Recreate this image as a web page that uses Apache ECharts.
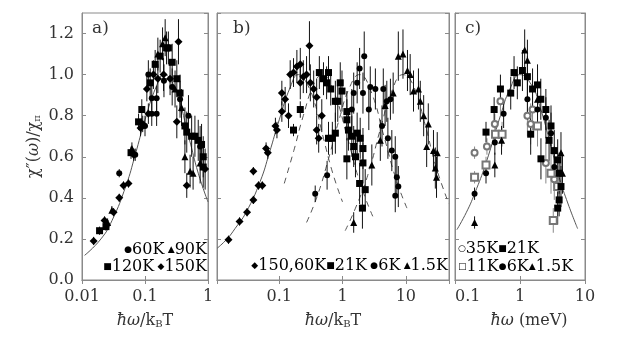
<!DOCTYPE html>
<html>
<head>
<meta charset="utf-8">
<script src="https://cdn.jsdelivr.net/npm/echarts@6/dist/echarts.min.js"></script>
<style>
  html, body { margin: 0; padding: 0; background: #fff; }
  #chart { width: 623px; height: 350px; }
</style>
</head>
<body>
<div id="chart"></div>
<script>
  // points are [x, y, error]
  // panel a) scaled by k_B T
  var a60 = [[0.039,0.52,0.02],[0.07,0.61,0.03],[0.1,0.75,0.05],[0.128,0.81,0.06],[0.153,0.81,0.06],[0.128,0.885,0.06],[0.153,0.885,0.06],[0.113,1.0,0.07],[0.2,0.97,0.08],[0.27,0.94,0.09],[0.36,0.88,0.09],[0.49,0.80,0.1],[0.75,0.65,0.1]];
  var a90 = [[0.0255,0.28,0.02],[0.0298,0.34,0.02],[0.062,0.64,0.03],[0.16,1.10,0.08],[0.19,1.15,0.08],[0.209,1.18,0.09],[0.3,0.93,0.09],[0.38,0.84,0.09],[0.43,0.60,0.08],[0.52,0.53,0.08],[0.58,0.52,0.08],[0.75,0.57,0.1]];
  var a120 = [[0.019,0.24,0.02],[0.024,0.26,0.02],[0.06,0.62,0.03],[0.079,0.77,0.04],[0.089,0.83,0.05],[0.121,0.96,0.07],[0.145,1.05,0.07],[0.174,1.09,0.08],[0.22,1.13,0.08],[0.235,1.13,0.08],[0.27,1.06,0.09],[0.32,0.98,0.09],[0.36,0.91,0.09],[0.43,0.75,0.09],[0.46,0.72,0.1],[0.55,0.70,0.1],[0.62,0.70,0.1],[0.7,0.68,0.1],[0.79,0.66,0.1],[0.84,0.6,0.1],[0.84,0.55,0.1]];
  var a150 = [[0.0153,0.19,0.02],[0.0228,0.29,0.02],[0.0317,0.33,0.02],[0.039,0.40,0.02],[0.0456,0.46,0.02],[0.0547,0.47,0.02],[0.066,0.61,0.03],[0.085,0.74,0.04],[0.092,0.76,0.04],[0.113,0.81,0.05],[0.107,0.93,0.06],[0.136,1.0,0.07],[0.16,0.98,0.07],[0.197,1.0,0.08],[0.25,0.98,0.08],[0.34,1.16,0.11],[0.32,0.77,0.08],[0.46,0.46,0.06],[0.9,0.54,0.1]];
  var aFit = [[0.011,0.12],[0.02,0.2],[0.03,0.29],[0.05,0.46],[0.07,0.61],[0.1,0.78],[0.15,0.94],[0.2,1.0],[0.3,0.93],[0.5,0.69],[0.7,0.52],[1.0,0.38]];

  // panel b)
  var b150 = [[0.0158,0.196,0.02],[0.0236,0.285,0.02],[0.031,0.33,0.02],[0.039,0.39,0.02],[0.039,0.53,0.02],[0.047,0.46,0.02],[0.054,0.46,0.02],[0.062,0.64,0.03],[0.066,0.62,0.03],[0.087,0.75,0.04],[0.092,0.73,0.04],[0.11,0.82,0.05],[0.14,0.80,0.06],[0.11,0.91,0.06],[0.124,0.88,0.06],[0.149,1.0,0.07],[0.168,1.01,0.07],[0.19,1.04,0.08],[0.215,1.05,0.08],[0.24,0.99,0.08],[0.27,1.0,0.09],[0.215,0.96,0.08],[0.31,0.96,0.09],[0.35,0.93,0.09],[0.39,0.89,0.09],[0.3,1.14,0.12],[0.47,0.80,0.08],[0.39,0.73,0.07],[0.42,0.69,0.07]];
  var b21 = [[0.168,0.73,0.03],[0.215,0.83,0.04],[0.43,1.01,0.08],[0.6,1.01,0.08],[0.5,0.98,0.08],[0.56,0.96,0.08],[0.65,0.93,0.08],[0.92,0.96,0.1],[0.98,0.92,0.1],[0.77,0.87,0.1],[0.84,0.87,0.1],[0.77,0.715,0.1],[0.6,0.69,0.08],[0.69,0.69,0.08],[1.17,0.78,0.1],[1.24,0.73,0.1],[1.17,0.82,0.1],[1.4,0.70,0.1],[1.7,0.715,0.1],[1.9,0.69,0.1],[2.1,0.64,0.1],[1.5,0.65,0.1],[1.17,0.59,0.1],[1.6,0.60,0.1],[2.1,0.57,0.1],[1.86,0.47,0.1],[2.28,0.44,0.1],[2.06,0.35,0.1]];
  var b6 = [[0.37,0.42,0.04],[0.57,0.51,0.07],[1.4,0.83,0.1],[1.5,0.91,0.1],[1.7,0.96,0.1],[1.86,1.03,0.1],[2.2,1.09,0.12],[2.1,0.91,0.1],[2.6,0.83,0.1],[2.74,0.94,0.1],[3.3,0.93,0.1],[4.4,0.93,0.1],[5.0,0.87,0.1],[5.7,0.88,0.1],[4.2,0.75,0.1],[5.2,0.69,0.1],[6.0,0.63,0.1],[6.8,0.60,0.1],[7.2,0.50,0.1],[7.6,0.455,0.1],[6.8,0.41,0.08]];
  var b15 = [[1.5,0.28,0.05],[2.9,0.56,0.1],[3.95,0.68,0.1],[4.7,0.85,0.1],[6.3,0.91,0.1],[7.6,1.09,0.12],[9.0,1.10,0.12],[10.6,1.02,0.1],[11.7,1.0,0.1],[13.2,0.92,0.1],[15.8,0.93,0.1],[16.9,0.87,0.1],[19.1,0.80,0.1],[22.6,0.76,0.1],[21.3,0.65,0.1],[27.3,0.63,0.1],[31.3,0.62,0.1],[29.2,0.545,0.1],[30.5,0.50,0.1]];
  var bFit150 = [[0.0105,0.155],[0.015,0.2],[0.02,0.25],[0.03,0.33],[0.05,0.48],[0.07,0.62],[0.1,0.78],[0.15,0.94],[0.2,1.0],[0.27,0.96]];
  var bTail150 = [[0.27,0.96],[0.35,0.88],[0.5,0.69],[0.7,0.52],[1.0,0.38]];
  var bFit21 = [[0.12,0.47],[0.17,0.63],[0.24,0.8],[0.36,0.96],[0.48,1.0],[0.72,0.92],[1.2,0.69],[1.9,0.47],[3.0,0.31]];
  var bFit6 = [[0.27,0.28],[0.4,0.41],[0.6,0.59],[0.9,0.79],[1.3,0.94],[1.85,1.0],[2.8,0.92],[4.5,0.7],[7,0.49],[10.4,0.35]];
  var bFit15 = [[1.1,0.24],[1.6,0.35],[2.5,0.51],[4,0.74],[6,0.92],[9,1.0],[13,0.95],[20,0.76],[30,0.55],[48,0.37]];

  // panel c) in meV
  var c35 = [[0.2,0.62,0.03],[0.31,0.65,0.04],[0.41,0.76,0.05],[0.5,0.87,0.06],[1.3,0.80,0.1],[1.46,0.76,0.1],[1.56,0.83,0.1],[2.5,0.57,0.1],[3.37,0.49,0.1]];
  var c21 = [[0.30,0.72,0.05],[0.4,0.83,0.06],[0.5,0.93,0.07],[0.72,0.91,0.08],[0.81,1.01,0.08],[0.91,0.96,0.08],[1.09,1.02,0.1],[1.3,0.99,0.1],[1.56,0.93,0.1],[1.86,0.95,0.1],[2.09,0.88,0.1],[1.46,0.71,0.1],[2.5,0.83,0.1],[3.0,0.75,0.1],[2.8,0.68,0.1],[2.1,0.59,0.1],[3.37,0.63,0.1],[3.8,0.585,0.1],[4.0,0.52,0.1],[4.27,0.455,0.1],[4.0,0.39,0.08],[3.8,0.35,0.08]];
  var c11 = [[0.2,0.50,0.03],[0.30,0.56,0.04],[0.42,0.71,0.05],[0.53,0.71,0.06],[1.86,0.75,0.1],[3.0,0.52,0.1],[3.8,0.455,0.1],[3.25,0.29,0.06]];
  var c6 = [[0.2,0.42,0.03],[0.30,0.52,0.05],[0.41,0.67,0.06],[0.56,0.81,0.07],[1.3,0.88,0.1],[1.86,0.83,0.1],[2.5,0.79,0.1],[3.0,0.715,0.1],[3.37,0.55,0.1]];
  var c15 = [[0.2,0.28,0.03],[0.41,0.56,0.06],[0.52,0.68,0.07],[1.18,1.12,0.1],[1.3,1.07,0.1],[1.86,0.88,0.1],[4.27,0.62,0.1],[4.5,0.52,0.1]];
  var cFit = [[0.107,0.245],[0.15,0.33],[0.2,0.42],[0.3,0.57],[0.5,0.8],[0.7,0.93],[1.0,1.0],[1.5,0.95],[2,0.85],[3,0.65],[4,0.5],[5.5,0.37],[7.7,0.25]];

  var yTicks = [0, 0.2, 0.4, 0.6, 0.8, 1.0, 1.2];

  var serif = 'DejaVu Serif';
  var frame = '#8a8a8a';
  var ink = '#333';

  var chart = echarts.init(document.getElementById('chart'), null, { renderer: 'canvas' });

  var grids = [
    { left: 82, top: 13, width: 126, height: 267 },
    { left: 217, top: 13, width: 232, height: 267 },
    { left: 455, top: 13, width: 130, height: 267 }
  ];
  var xRange = [[0.01, 1], [0.0104, 48], [0.1, 10]];

  function fmtLog(v) {
    return String(+v.toPrecision(3));
  }

  var xAxes = [], yAxes = [];
  grids.forEach(function (g, i) {
    ['bottom', 'top'].forEach(function (pos) {
      xAxes.push({
        type: 'log', logBase: 10, gridIndex: i, position: pos,
        min: xRange[i][0], max: xRange[i][1],
        axisLine: { show: true, lineStyle: { color: frame } },
        axisTick: { show: true, inside: true, length: 4, lineStyle: { color: frame } },
        splitLine: { show: false },
        minorTick: { show: false },
        axisLabel: {
          show: pos === 'bottom', fontFamily: serif, fontSize: 16, color: ink, margin: 9,
          formatter: fmtLog,
          showMinLabel: i !== 1, showMaxLabel: i !== 1,
          alignMinLabel: i === 2 ? 'left' : 'center'
        }
      });
    });
    ['left', 'right'].forEach(function (pos) {
      yAxes.push({
        type: 'value', gridIndex: i, position: pos, min: 0, max: 1.3, interval: 0.2,
        axisLine: { show: true, lineStyle: { color: frame } },
        axisTick: { show: true, inside: true, length: 4, lineStyle: { color: frame } },
        splitLine: { show: false },
        axisLabel: {
          show: i === 0 && pos === 'left', fontFamily: serif, fontSize: 16, color: ink, margin: 8,
          showMaxLabel: false,
          formatter: function (v) { return yTicks.indexOf(+v.toFixed(1)) >= 0 ? v.toFixed(1) : ''; }
        }
      });
    });
  });

  var subRich = {
    n: { fontFamily: serif, fontSize: 16, color: ink },
    i: { fontFamily: serif, fontSize: 16, color: ink, fontStyle: 'italic' },
    s: { fontFamily: serif, fontSize: 10, color: ink, verticalAlign: 'bottom', lineHeight: 12 }
  };
  xAxes[0].name = '{i|ħω}{n|/k}{s|B}{n|T}';
  xAxes[2].name = '{i|ħω}{n|/k}{s|B}{n|T}';
  xAxes[4].name = '{i|ħω}{n| (meV)}';
  [0, 2, 4].forEach(function (k) {
    xAxes[k].nameLocation = 'middle';
    xAxes[k].nameGap = 33;
    xAxes[k].nameTextStyle = { rich: subRich, padding: k === 4 ? [0, 0, 0, 18] : 0 };
  });
  yAxes[0].name = '{n|χ″(}{i|ω}{n|)/χ}{s|π}';
  yAxes[0].nameLocation = 'middle';
  yAxes[0].nameGap = 40;
  yAxes[0].nameRotate = 90;
  yAxes[0].nameTextStyle = { rich: subRich, padding: [0, 0, 0, 0] };

  function errBars(name, grid, data, color) {
    return {
      name: name, type: 'custom', xAxisIndex: grid * 2, yAxisIndex: grid * 2,
      data: data, silent: true, z: 2,
      renderItem: function (params, api) {
        var x = api.value(0), y = api.value(1), e = api.value(2);
        var lo = Math.max(0, y - e), hi = Math.min(1.3, y + e);
        var p1 = api.coord([x, lo]), p2 = api.coord([x, hi]);
        return {
          type: 'line',
          shape: { x1: p1[0], y1: p1[1], x2: p2[0], y2: p2[1] },
          style: { stroke: color, lineWidth: 1 }
        };
      }
    };
  }

  function points(name, grid, data, symbol, size, color) {
    return {
      name: name, type: 'scatter', xAxisIndex: grid * 2, yAxisIndex: grid * 2,
      data: data.map(function (d) { return [d[0], d[1]]; }),
      symbol: symbol, symbolSize: size, z: 3,
      itemStyle: { color: color, borderColor: color, borderWidth: symbol.indexOf('empty') === 0 ? 1 : 0, opacity: 1 }
    };
  }

  function fitLine(grid, data, dashed) {
    return {
      type: 'line', xAxisIndex: grid * 2, yAxisIndex: grid * 2, data: data,
      smooth: true, showSymbol: false, symbol: 'none', z: 1,
      lineStyle: { color: '#555', width: 1, type: dashed ? [6, 5] : 'solid' }
    };
  }

  var series = [
    fitLine(0, aFit, false),
    fitLine(1, bFit150, false), fitLine(1, bTail150, true),
    fitLine(1, bFit21, true), fitLine(1, bFit6, true), fitLine(1, bFit15, true),
    fitLine(2, cFit, false)
  ];
  var sets = [
    ['a60', 0, a60, 'circle', 6, '#000'],
    ['a90', 0, a90, 'triangle', 7, '#000'],
    ['a120', 0, a120, 'rect', 7, '#000'],
    ['a150', 0, a150, 'diamond', 8, '#000'],
    ['b150', 1, b150, 'diamond', 8, '#000'],
    ['b21', 1, b21, 'rect', 7, '#000'],
    ['b6', 1, b6, 'circle', 6, '#000'],
    ['b15', 1, b15, 'triangle', 7, '#000'],
    ['c35', 2, c35, 'emptyCircle', 6, '#777'],
    ['c11', 2, c11, 'emptyRect', 7, '#777'],
    ['c21', 2, c21, 'rect', 7, '#000'],
    ['c6', 2, c6, 'circle', 6, '#000'],
    ['c15', 2, c15, 'triangle', 7, '#000']
  ];
  sets.forEach(function (s) {
    series.push(errBars(s[0], s[1], s[2], s[5] === '#000' ? '#111' : '#888'));
  });
  sets.forEach(function (s) {
    series.push(points(s[0], s[1], s[2], s[3], s[4], s[5]));
  });

  var legRich = {
    t: { fontFamily: serif, fontSize: 16, color: ink },
    m: { fontFamily: 'DejaVu Sans', fontSize: 9, color: '#000' },
    g: { fontFamily: 'DejaVu Sans', fontSize: 9, color: '#777' }
  };
  function label(x, y, text, align) {
    return {
      type: 'text', x: x, y: y, z: 10,
      style: { text: text, rich: legRich, align: align, verticalAlign: 'middle' }
    };
  }
  var tag = { fontFamily: serif, fontSize: 17, fill: ink };

  chart.setOption({
    animation: false,
    grid: grids.map(function (g) {
      return Object.assign({ show: true, borderColor: frame, borderWidth: 1, backgroundColor: 'transparent' }, g);
    }),
    xAxis: xAxes,
    yAxis: yAxes,
    series: series,
    graphic: [
      { type: 'text', x: 92, y: 20, style: Object.assign({ text: 'a)' }, tag) },
      { type: 'text', x: 233, y: 20, style: Object.assign({ text: 'b)' }, tag) },
      { type: 'text', x: 465, y: 20, style: Object.assign({ text: 'c)' }, tag) },
      label(207, 250, '{m|●}{t|60K} {m|▲}{t|90K}', 'right'),
      label(207, 267, '{m|■}{t|120K} {m|◆}{t|150K}', 'right'),
      label(448, 266, '{m|◆}{t|150,60K}{m|■}{t|21K} {m|●}{t|6K} {m|▲}{t|1.5K}', 'right'),
      label(458, 249, '{g|○}{t|35K}{m|■}{t|21K}', 'left'),
      label(458, 267, '{g|□}{t|11K}{m|●}{t|6K}{m|▲}{t|1.5K}', 'left')
    ]
  });
</script>
</body>
</html>
